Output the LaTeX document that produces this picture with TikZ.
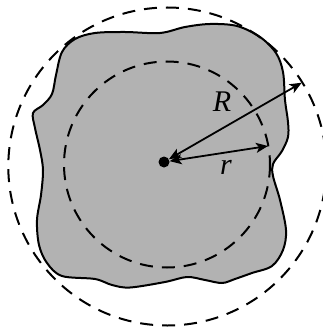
\documentclass[tikz,border=0pt]{standalone}
\usepackage{fontspec}
\setmainfont{Liberation Serif}
\usepackage{tikz}
\usetikzlibrary{arrows.meta}
\definecolor{blobgray}{gray}{0.7}

\begin{document}
\begin{tikzpicture}[
    x=1pt, y=-1pt,
    blob/.style={draw, fill=blobgray, line width=2pt, line join=round},
    bound/.style={draw, line width=2pt, dash pattern=on 13pt off 9pt},
    radarr/.style={{Stealth[length=12pt,width=10pt,inset=3pt]}-{Stealth[length=12pt,width=10pt,inset=3pt]}, line width=1.8pt},
    centre/.style={circle, fill=black, minimum size=11pt, inner sep=0pt},
    lbl/.style={font=\fontsize{30}{32}\selectfont\itshape, inner sep=0pt}
]
\useasboundingbox (0,0) rectangle (323,329);

% irregular body
\draw[blob] plot[smooth cycle, tension=0.55] coordinates {
    (33,113) (43,105) (52,94) (56,75) (62,52) (75,39) (95,33) (125,32)
    (160,33) (185,27) (210,24) (237,26) (260,37) (276,53) (283,72) (285,100)
    (288,122) (288,137) (282,151) (273,164) (273,176) (280,200) (286,230) (283,250)
    (272,266) (252,273) (235,279) (222,283) (205,280) (187,277) (165,282) (130,287.5)
    (112,285) (95,279) (62,276) (47,263) (39,245) (37,220) (41,195) (43,170)
    (40,150) (35,128)};

% inscribed and circumscribed circles
\coordinate (inner) at (167,164.5);
\coordinate (outer) at (167.3,166.5);
\draw[bound] (inner) circle[radius=103];
\draw[bound] (outer) circle[radius=159];

\node[centre] (o) at (164,162) {};
\coordinate (Rend) at (301.7,82.7);
\coordinate (rend) at (268,146);

\draw[radarr] (o) -- (Rend);
\draw[radarr] (o) -- (rend);

\node[lbl] (Rlbl) at (222,102) {R};
\node[lbl] (rlbl) at (226,167) {r};
\end{tikzpicture}
\end{document}
